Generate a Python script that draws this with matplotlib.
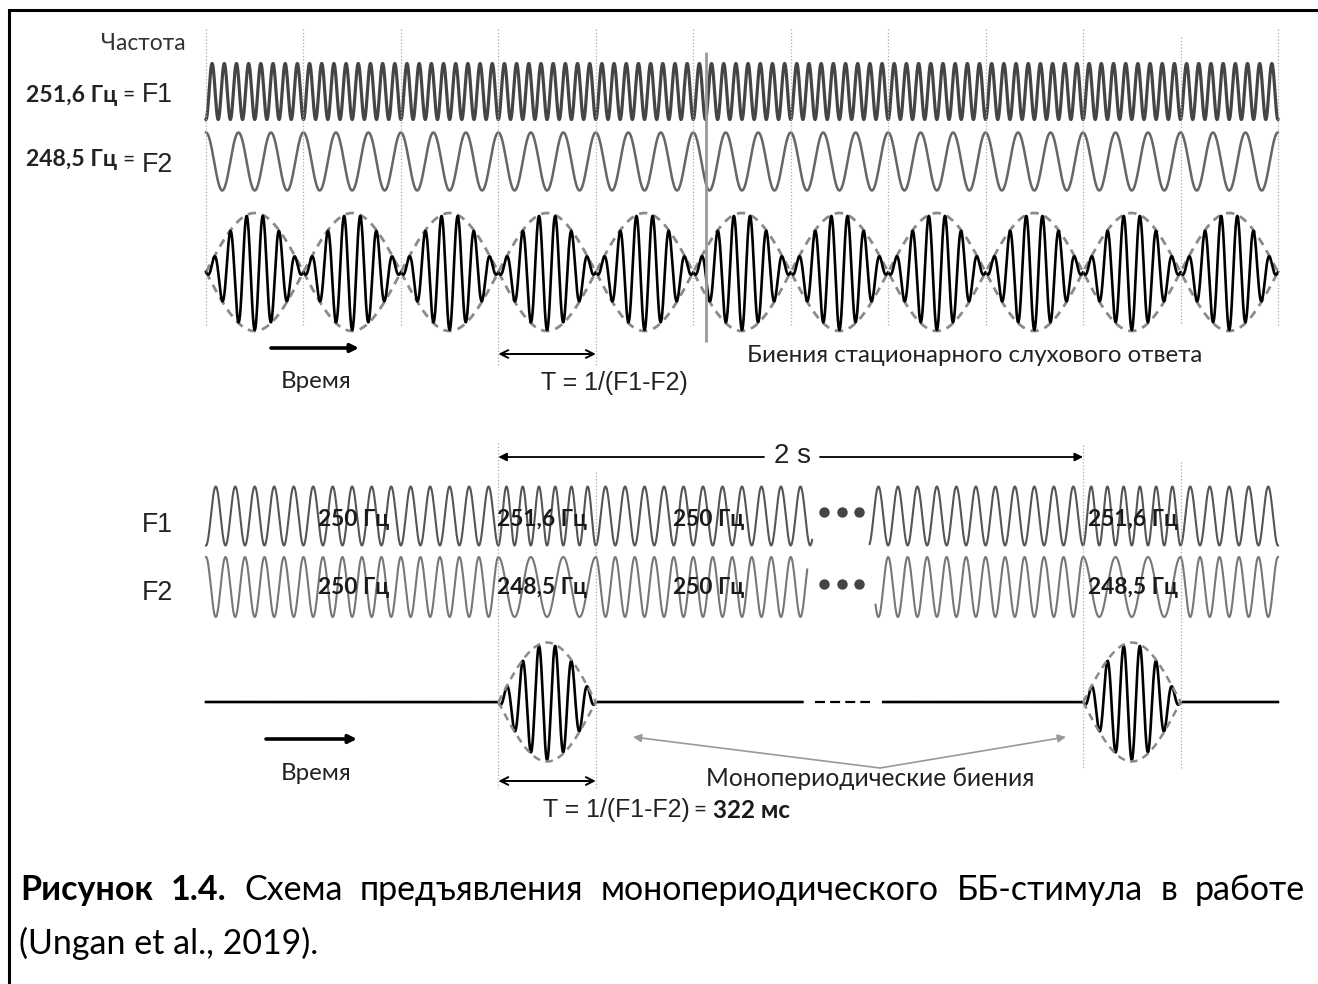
import numpy as np
import matplotlib.pyplot as plt

# --- values ----------------------------------------------------------------
N_PERIODS = 11            # beat periods drawn in the upper scheme
TOP_F1_CYCLES = 8         # cycles of F1 per beat period (upper scheme)
TOP_F2_CYCLES = 3         # cycles of F2 per beat period
BEAT_CYCLES = 6           # carrier cycles inside one beat
BASE_CYCLES = 5           # 250 Гц, cycles per period (lower scheme)
BURST_F1_CYCLES = 6       # 251,6 Гц
BURST_F2_CYCLES = 3       # 248,5 Гц
BURST_PERIODS = [3, 9]    # periods where F1 != F2 (every 2 s)
F1_GAP = (6.22, 6.81)     # interrupted part ("...")
F2_GAP = (6.17, 6.87)

top_freq_labels = ['251,6 Гц', '248,5 Гц']
row_names = ['F1', 'F2']
seg_pos = [1.15, 2.99, 4.79, 9.05]
f1_seg_labels = ['250 Гц', '251,6 Гц', '250 Гц', '251,6 Гц']
f2_seg_labels = ['250 Гц', '248,5 Гц', '250 Гц', '248,5 Гц']

caption_bold = 'Рисунок 1.4.'
caption_line1 = 'Схема предъявления монопериодического ББ-стимула в работе'
caption_line2 = '(Ungan et al., 2019).'

CAL = ['Lato', 'Open Sans', 'DejaVu Sans']
ARI = ['Liberation Sans', 'DejaVu Sans']

W, H = 1318, 984
X0, T = 206.0, 97.45


def px(s):
    return X0 + np.asarray(s) * T


fig = plt.figure(figsize=(W / 100, H / 100), dpi=100)
ax = fig.add_axes([0, 0, 1, 1])
ax.set_xlim(0, W)
ax.set_ylim(H, 0)
ax.axis('off')
fig.canvas.draw()
renderer = fig.canvas.get_renderer()


def fit_text(x, y, txt, width, ha='left', **kw):
    t = ax.text(x, y, txt, fontsize=20, ha=ha, va='center', **kw)
    w = t.get_window_extent(renderer).width
    t.set_fontsize(20 * width / w)
    return t


def right_of(t):
    bb = t.get_window_extent(renderer)
    return ax.transData.inverted().transform((bb.x1, bb.y0))[0]


# frame (top and left only)
ax.plot([9, 9, W], [H, 10, 10], color='black', lw=2.2, solid_joinstyle='miter')

# ---------------- upper scheme ----------------
s = np.linspace(0, N_PERIODS, 20000)
x = px(s)
ax.plot(x, 91.5 + 28 * np.cos(2 * np.pi * TOP_F1_CYCLES * s), color='#454545', lw=2.3)
ax.plot(x, 161.5 - 29 * np.cos(2 * np.pi * TOP_F2_CYCLES * s), color='#666666', lw=1.8)
env = np.abs(np.sin(np.pi * s))
beat = -np.cos(2 * np.pi * BEAT_CYCLES * s) * env
ax.plot(x, 272 + 59 * env, color='#8a8a8a', lw=2, ls=(0, (3, 2.2)))
ax.plot(x, 272 - 59 * env, color='#8a8a8a', lw=2, ls=(0, (3, 2.2)))
ax.plot(x, 272 - 58 * beat, color='black', lw=1.9)

k = np.arange(N_PERIODS + 1)
tops = np.where(k == 10, 37, 29)
bottoms = np.where((k == 3) | (k == 4), 365, 325)
ax.vlines(px(k), tops, bottoms, colors='#aaaaaa', lw=0.9, linestyles=':')
ax.vlines(px(5.13), 52, 342, colors='#9a9a9a', lw=2)

fit_text(186, 43, 'Частота', 84, ha='right', family=CAL, color='#333333')
for yy, lab, nm, dy in zip([95, 160], top_freq_labels, row_names, [0, 5]):
    fit_text(26, yy, lab, 91, family=CAL, weight='bold', color='#222222')
    ax.text(128, yy, '=', fontsize=15, ha='center', va='center', family=CAL, color='#222222')
    fit_text(142, yy + dy, nm, 31, family=ARI, color='#222222')

ax.annotate('', xy=(359, 348), xytext=(271, 348),
            arrowprops=dict(arrowstyle='-|>', lw=2.6, color='black', mutation_scale=12,
                            shrinkA=0, shrinkB=0))
fit_text(316, 381, 'Время', 71, ha='center', family=CAL, color='#222222')
ax.annotate('', xy=(px(4), 354), xytext=(px(3), 354),
            arrowprops=dict(arrowstyle='<->', lw=1.4, color='black', mutation_scale=14,
                            shrinkA=0, shrinkB=0))
t_top = fit_text(541, 383, 'T = 1/(F1-F2)', 147, family=ARI, color='#222222')
fit_text(747, 356, 'Биения стационарного слухового ответа', 456, family=CAL, color='#222222')

# ---------------- lower scheme ----------------
s2 = np.linspace(0, N_PERIODS, 30000)
x2 = px(s2)
in_burst = np.zeros_like(s2, dtype=bool)
for b in BURST_PERIODS:
    in_burst |= (s2 >= b) & (s2 < b + 1)
ds = s2[1] - s2[0]
c1 = np.where(in_burst, BURST_F1_CYCLES, BASE_CYCLES)
c2 = np.where(in_burst, BURST_F2_CYCLES, BASE_CYCLES)
ph1 = 2 * np.pi * np.concatenate([[0], np.cumsum(c1[:-1]) * ds])
ph2 = 2 * np.pi * np.concatenate([[0], np.cumsum(c2[:-1]) * ds])
y1 = 516 + 29.5 * np.cos(ph1)
y2 = 587 - 30 * np.cos(ph2)
y1[(s2 > F1_GAP[0]) & (s2 < F1_GAP[1])] = np.nan
y2[(s2 > F2_GAP[0]) & (s2 < F2_GAP[1])] = np.nan
ax.plot(x2, y1, color='#555555', lw=1.5)
ax.plot(x2, y2, color='#777777', lw=1.5)

dots = np.array([824, 842, 859])
ax.plot(dots, np.full(3, 512), 'o', color='#444444', ms=7.5, mec='none')
ax.plot(dots, np.full(3, 584), 'o', color='#444444', ms=7.5, mec='none')

# response: flat line with isolated beats
frac = s2 - np.floor(s2)
benv = np.where(in_burst, np.sin(np.pi * frac), 0)
resp = 702 - 58 * (-np.cos(2 * np.pi * BEAT_CYCLES * frac) * benv)
resp[(s2 > 6.12) & (s2 < 6.95)] = np.nan
ax.plot(x2, resp, color='black', lw=1.9)
ax.plot([815, 870], [702, 702], color='black', lw=1.6, ls=(0, (4.5, 2.3)))
for b in BURST_PERIODS:
    sb = np.linspace(b, b + 1, 400)
    e = np.sin(np.pi * (sb - b))
    ax.plot(px(sb), 702 - 59.5 * e, color='#8a8a8a', lw=1.8, ls=(0, (3, 2.2)))
    ax.plot(px(sb), 702 + 59.5 * e, color='#8a8a8a', lw=1.8, ls=(0, (3, 2.2)))

ax.vlines(px([3, 4]), [443, 472], 788, colors='#aaaaaa', lw=0.9, linestyles=':')
ax.vlines(px([9, 10]), [445, 462], 768, colors='#aaaaaa', lw=0.9, linestyles=':')

for yy, nm in zip([525, 593], row_names):
    fit_text(142, yy, nm, 31, family=ARI, color='#222222')
for sp, l1, l2 in zip(seg_pos, f1_seg_labels, f2_seg_labels):
    w = 71 if l1.startswith('250') else 90
    fit_text(px(sp), 520, l1, w, family=CAL, weight='bold', color='#1a1a1a')
    fit_text(px(sp), 588, l2, w, family=CAL, weight='bold', color='#1a1a1a')

# 2 s arrow
ax.annotate('', xy=(px(3), 457), xytext=(764, 457),
            arrowprops=dict(arrowstyle='-|>', lw=1.3, color='black', mutation_scale=12,
                            shrinkA=0, shrinkB=0))
ax.annotate('', xy=(px(9), 457), xytext=(820, 457),
            arrowprops=dict(arrowstyle='-|>', lw=1.3, color='black', mutation_scale=12,
                            shrinkA=0, shrinkB=0))
fit_text(792, 456, '2 s', 37, ha='center', family=ARI, color='#222222')

ax.annotate('', xy=(357, 739), xytext=(266, 739),
            arrowprops=dict(arrowstyle='-|>', lw=2.6, color='black', mutation_scale=12,
                            shrinkA=0, shrinkB=0))
fit_text(316, 773, 'Время', 71, ha='center', family=CAL, color='#222222')
ax.annotate('', xy=(px(4), 781), xytext=(px(3), 781),
            arrowprops=dict(arrowstyle='<->', lw=1.4, color='black', mutation_scale=14,
                            shrinkA=0, shrinkB=0))
t1 = ax.text(543, 810, 'T = 1/(F1-F2)', fontsize=t_top.get_fontsize(), ha='left',
             va='center', family=ARI, color='#222222')
t2 = ax.text(right_of(t1) + 4, 810, '=', fontsize=16, ha='left', va='center',
             family=CAL, color='#222222')
t3 = ax.text(right_of(t2) + 6, 810, '322 мс', fontsize=17.5, ha='left', va='center',
             family=CAL, weight='bold', color='#1a1a1a')

fit_text(706, 778, 'Монопериодические биения', 330, family=CAL, color='#222222')
for tx in [633, 1066]:
    ax.annotate('', xy=(tx, 737), xytext=(880, 768),
                arrowprops=dict(arrowstyle='-|>', lw=1.2, color='#999999', mutation_scale=12,
                                shrinkA=0, shrinkB=0))

# ---------------- caption (justified first line) ----------------
words = [(w_, 'bold') for w_ in caption_bold.split()] + \
        [(w_, 'normal') for w_ in caption_line1.split()]
objs = [ax.text(0, 890, w_, fontsize=20, ha='left', va='center', family=CAL,
                weight=wt, color='black') for w_, wt in words]
w20 = sum(o.get_window_extent(renderer).width for o in objs)
left, right, min_gap = 20, 1305, 17
fs = 20 * (right - left - min_gap * (len(objs) - 1)) / w20
for o in objs:
    o.set_fontsize(fs)
widths = [o.get_window_extent(renderer).width for o in objs]
gap = (right - left - sum(widths)) / (len(objs) - 1)
xc = left
for o, wd in zip(objs, widths):
    o.set_x(xc)
    xc += wd + gap
ax.text(19, 943, caption_line2, fontsize=fs, ha='left', va='center',
        family=CAL, color='black')

fig.savefig('out.png', dpi=100)
